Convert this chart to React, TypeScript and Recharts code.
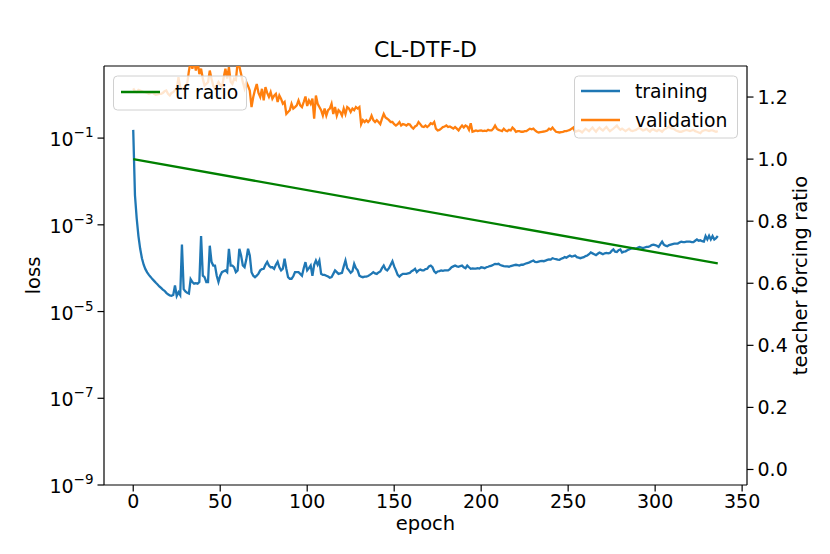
import { ComposedChart, Line, XAxis, YAxis, ReferenceLine } from "recharts"

// loss per epoch
const trainingLoss = [
  0.155, 4.8e-3, 1.4e-3, 5.5e-4, 2.8e-4, 1.7e-4, 1.2e-4, 9.5e-5, 8.0e-5, 7.0e-5,
  6.3e-5, 5.6e-5, 5.1e-5, 4.6e-5, 4.2e-5, 3.8e-5, 3.5e-5, 3.2e-5, 3.0e-5, 2.7e-5,
  2.5e-5, 2.35e-5, 2.3e-5, 2.4e-5, 4.0e-5, 2.3e-5, 2.8e-5, 2.4e-5, 3.5e-4, 3.3e-5,
  2.9e-5, 2.7e-5, 2.6e-5, 5.6e-5, 4.8e-5, 4.4e-5, 4.5e-5, 4.4e-5, 4.8e-5, 5.5e-4,
  6.7e-5, 6.2e-5, 4.8e-5, 4.8e-5, 3.3e-4, 1.4e-4, 1.15e-4, 1.15e-4, 6.7e-5, 4.8e-5,
  6.7e-5, 8.1e-5, 8.5e-5, 8.9e-5, 8.1e-5, 2.8e-4, 1.15e-4, 1.15e-4, 1.05e-4, 8.1e-5,
  8.9e-5, 2.8e-4, 1.96e-4, 1.15e-4, 1.05e-4, 1.6e-4, 2.8e-4, 1.96e-4, 8.1e-5, 6.7e-5,
  6.2e-5, 6.7e-5, 7.5e-5, 8.9e-5, 9.5e-5, 9.7e-5, 1.2e-4, 1.4e-4, 1.15e-4, 1.05e-4,
  1.05e-4, 9.7e-5, 1.2e-4, 1.4e-4, 1.05e-4, 8.9e-5, 9.7e-5, 1.65e-4, 9.7e-5, 6.2e-5,
  5.7e-5, 5.7e-5, 6.5e-5, 8.1e-5, 8.1e-5, 8.1e-5, 7.4e-5, 6.7e-5, 1.0e-4, 1.38e-4,
  8.9e-5, 1.0e-4, 1.15e-4, 6.7e-5, 1.2e-4, 1.5e-4, 1.2e-4, 1.5e-4, 7.4e-5, 7.0e-5,
  7.0e-5, 6.7e-5, 6.4e-5, 6.0e-5, 6.2e-5, 7.4e-5, 8.9e-5, 8.1e-5, 7.4e-5, 7.6e-5,
  7.8e-5, 1.1e-4, 1.5e-4, 1.0e-4, 8.9e-5, 7.8e-5, 8.5e-5, 1.26e-4, 1.0e-4, 8.9e-5,
  6.7e-5, 6.4e-5, 6.2e-5, 6.4e-5, 6.4e-5, 6.6e-5, 7.0e-5, 7.5e-5, 8.1e-5, 7.6e-5,
  7.4e-5, 8.0e-5, 8.4e-5, 1.0e-4, 1.15e-4, 9.5e-5, 8.9e-5, 1.0e-4, 1.2e-4, 1.45e-4,
  1.1e-4, 8.9e-5, 7.0e-5, 6.4e-5, 7.0e-5, 7.4e-5, 7.4e-5, 7.4e-5, 7.6e-5, 7.8e-5,
  8.5e-5, 8.9e-5, 9.7e-5, 8.1e-5, 8.9e-5, 9.3e-5, 8.9e-5, 8.9e-5, 9.5e-5, 9.7e-5,
  1.1e-4, 1.15e-4, 1.05e-4, 8.5e-5, 7.8e-5, 8.4e-5, 8.6e-5, 8.9e-5, 8.7e-5, 8.9e-5,
  8.9e-5, 8.9e-5, 9.5e-5, 1.05e-4, 1.1e-4, 1.15e-4, 1.1e-4, 1.08e-4, 1.12e-4, 1.15e-4,
  1.05e-4, 1.0e-4, 1.15e-4, 1.05e-4, 9.7e-5, 9.9e-5, 9.8e-5, 9.8e-5, 1.0e-4, 9.8e-5,
  1.05e-4, 1.03e-4, 1.0e-4, 1.05e-4, 1.08e-4, 1.12e-4, 1.15e-4, 1.2e-4, 1.26e-4, 1.24e-4,
  1.26e-4, 1.18e-4, 1.15e-4, 1.12e-4, 1.1e-4, 1.1e-4, 1.08e-4, 1.12e-4, 1.15e-4, 1.18e-4,
  1.2e-4, 1.18e-4, 1.15e-4, 1.2e-4, 1.2e-4, 1.25e-4, 1.3e-4, 1.32e-4, 1.38e-4, 1.45e-4,
  1.5e-4, 1.4e-4, 1.38e-4, 1.42e-4, 1.45e-4, 1.48e-4, 1.45e-4, 1.5e-4, 1.55e-4, 1.6e-4,
  1.58e-4, 1.7e-4, 1.65e-4, 1.62e-4, 1.58e-4, 1.56e-4, 1.65e-4, 1.7e-4, 1.8e-4, 1.75e-4,
  1.85e-4, 1.96e-4, 1.86e-4, 1.9e-4, 1.96e-4, 1.8e-4, 1.75e-4, 1.7e-4, 1.75e-4, 1.8e-4,
  1.9e-4, 1.96e-4, 2.1e-4, 2.3e-4, 2.2e-4, 2.1e-4, 2.0e-4, 2.15e-4, 2.3e-4, 2.2e-4,
  2.1e-4, 2.2e-4, 2.25e-4, 2.2e-4, 2.25e-4, 2.5e-4, 2.7e-4, 2.4e-4, 2.35e-4, 2.6e-4,
  2.7e-4, 2.3e-4, 2.4e-4, 2.45e-4, 2.6e-4, 2.7e-4, 2.8e-4, 2.9e-4, 2.85e-4, 2.8e-4,
  2.95e-4, 3.1e-4, 3.0e-4, 2.9e-4, 3.0e-4, 3.1e-4, 3.1e-4, 3.2e-4, 3.4e-4, 3.5e-4,
  3.4e-4, 3.3e-4, 3.1e-4, 3.6e-4, 4.1e-4, 3.5e-4, 3.3e-4, 3.2e-4, 3.4e-4, 3.5e-4,
  3.6e-4, 3.7e-4, 3.7e-4, 3.7e-4, 3.9e-4, 4.1e-4, 4.0e-4, 4.0e-4, 4.1e-4, 4.1e-4,
  4.1e-4, 4.0e-4, 4.0e-4, 4.3e-4, 4.6e-4, 4.3e-4, 4.4e-4, 4.2e-4, 4.1e-4, 5.5e-4,
  4.6e-4, 5.6e-4, 4.6e-4, 5.5e-4, 4.6e-4, 4.9e-4, 5.5e-4,
]

const validationLoss = [
  1.4, 1.2, 1.15, 1.3, 1.25, 1.2, 1.15, 1.15, 1.1, 1.05,
  1.1, 1.15, 1.05, 1.0, 1.02, 1.05, 1.05, 1.1, 1.2, 1.25,
  1.05, 0.96, 1.1, 1.15, 1.3, 1.37, 2.55, 1.5, 1.4, 1.37,
  1.6, 1.78, 3.5, 6.0, 4.0, 6.0, 3.6, 6.0, 3.0, 4.0,
  2.35, 1.63, 1.78, 1.95, 3.6, 2.35, 1.6, 1.37, 1.6, 1.95,
  1.7, 1.5, 2.5, 4.0, 2.35, 4.35, 2.0, 1.78, 2.35, 2.2,
  5.5, 4.5, 3.0, 1.95, 1.4, 1.95, 1.6, 1.25, 0.52, 0.89,
  1.3, 1.77, 1.1, 0.89, 1.37, 0.74, 1.5, 1.1, 0.89, 1.15,
  0.81, 0.95, 1.05, 0.68, 0.96, 0.8, 0.62, 0.68, 0.36, 0.4,
  0.44, 0.62, 0.48, 0.52, 0.57, 0.74, 0.57, 0.52, 0.68, 0.91,
  0.55, 0.74, 0.62, 0.81, 0.28, 0.96, 0.62, 0.52, 0.44, 0.33,
  0.48, 0.33, 0.44, 0.48, 0.62, 0.36, 0.52, 0.33, 0.44, 0.40,
  0.33, 0.48, 0.36, 0.52, 0.48, 0.40, 0.48, 0.44, 0.52, 0.48,
  0.52, 0.21, 0.26, 0.235, 0.26, 0.235, 0.26, 0.33, 0.26, 0.235,
  0.26, 0.235, 0.21, 0.28, 0.36, 0.30, 0.28, 0.26, 0.235, 0.235,
  0.21, 0.195, 0.21, 0.235, 0.195, 0.21, 0.205, 0.195, 0.21, 0.205,
  0.18, 0.165, 0.185, 0.195, 0.235, 0.21, 0.185, 0.18, 0.195, 0.18,
  0.195, 0.22, 0.21, 0.235, 0.165, 0.15, 0.155, 0.165, 0.18, 0.185,
  0.195, 0.18, 0.185, 0.175, 0.165, 0.18, 0.165, 0.15, 0.175, 0.195,
  0.175, 0.195, 0.185, 0.155, 0.22, 0.14, 0.145, 0.15, 0.145, 0.148,
  0.15, 0.145, 0.148, 0.145, 0.155, 0.15, 0.15, 0.165, 0.195, 0.165,
  0.155, 0.15, 0.145, 0.165, 0.15, 0.145, 0.155, 0.15, 0.175, 0.16,
  0.14, 0.145, 0.145, 0.14, 0.14, 0.145, 0.145, 0.155, 0.165, 0.16,
  0.165, 0.15, 0.14, 0.135, 0.138, 0.14, 0.142, 0.145, 0.15, 0.165,
  0.158, 0.175, 0.155, 0.14, 0.138, 0.135, 0.138, 0.14, 0.145, 0.145,
  0.15, 0.155, 0.165, 0.175, 0.14, 0.145, 0.15, 0.145, 0.135, 0.15,
  0.165, 0.155, 0.145, 0.16, 0.175, 0.155, 0.14, 0.16, 0.175, 0.16,
  0.15, 0.165, 0.18, 0.16, 0.145, 0.155, 0.165, 0.18, 0.195, 0.17,
  0.155, 0.165, 0.155, 0.145, 0.155, 0.165, 0.15, 0.145, 0.15, 0.155,
  0.165, 0.175, 0.16, 0.15, 0.155, 0.165, 0.15, 0.14, 0.155, 0.16,
  0.15, 0.145, 0.155, 0.15, 0.14, 0.155, 0.165, 0.175, 0.185, 0.17,
  0.165, 0.16, 0.15, 0.145, 0.14, 0.14, 0.145, 0.15, 0.155, 0.15,
  0.145, 0.15, 0.155, 0.145, 0.14, 0.135, 0.13, 0.145, 0.15, 0.155,
  0.15, 0.145, 0.15, 0.15, 0.145, 0.14, 0.145,
]

// teacher forcing ratio: straight line, first and last epoch
const tfRatioEnds = [1.0, 0.664]

const epochTicks = [0, 50, 100, 150, 200, 250, 300, 350]
const lossTicks = [1e-9, 1e-7, 1e-5, 1e-3, 1e-1]
const tfTicks = [0, 0.2, 0.4, 0.6, 0.8, 1.0, 1.2]

const FONT = "'DejaVu Sans', sans-serif"
const FS = 19
const LABEL_FS = 19.5

const last = trainingLoss.length - 1
const rows = trainingLoss.map((v, i) => ({
  epoch: i,
  training: v,
  validation: validationLoss[i],
  tf: i === 0 ? tfRatioEnds[0] : i === last ? tfRatioEnds[1] : null,
}))

function LossTick({ x, y, payload }: any) {
  const exp = Math.round(Math.log10(payload.value))
  return (
    <text x={x} y={y} textAnchor="end" fill="#000" fontFamily={FONT} fontSize={FS}>
      <tspan dy={8}>10</tspan>
      <tspan dy={-9} fontSize={13.5}>{"\u2212" + Math.abs(exp)}</tspan>
    </text>
  )
}

export default function App() {
  const axisStroke = { stroke: "#000", strokeWidth: 1.2 }
  return (
    <div style={{ position: "absolute", left: 0, top: 0, width: 830, height: 554, background: "#fff" }}>
      <ComposedChart width={830} height={554} data={rows} margin={{ top: 66, right: 0, bottom: 0, left: 0 }}>
        <XAxis dataKey="epoch" type="number" domain={[-16.8, 352.8]} ticks={epochTicks} allowDataOverflow
          height={69} tickSize={6.5} tickMargin={3} axisLine={axisStroke} tickLine={axisStroke}
          tick={{ fontSize: FS, fill: "#000", fontFamily: FONT }} />
        <YAxis yAxisId="loss" scale="log" domain={[1e-9, 4.6]} ticks={lossTicks} allowDataOverflow
          width={104} tickSize={6.5} tickMargin={4} axisLine={axisStroke} tickLine={axisStroke}
          tick={<LossTick />} />
        <YAxis yAxisId="tf" orientation="right" domain={[-0.05, 1.3]} ticks={tfTicks} allowDataOverflow
          width={83} tickSize={6.5} tickMargin={4} axisLine={axisStroke} tickLine={axisStroke}
          tickFormatter={(v) => Number(v).toFixed(1)}
          tick={{ fontSize: FS, fill: "#000", fontFamily: FONT }} />
        <ReferenceLine yAxisId="tf" y={1.3} stroke="#000" strokeWidth={1.2} />
        <Line yAxisId="loss" dataKey="training" stroke="#1f77b4" strokeWidth={2.3} dot={false}
          isAnimationActive={false} />
        <Line yAxisId="loss" dataKey="validation" stroke="#ff7f0e" strokeWidth={2.3} dot={false}
          isAnimationActive={false} />
        <Line yAxisId="tf" dataKey="tf" stroke="#008000" strokeWidth={2.3} dot={false} connectNulls
          isAnimationActive={false} />
      </ComposedChart>

      <svg width={830} height={554} style={{ position: "absolute", left: 0, top: 0, pointerEvents: "none" }}
        fontFamily={FONT} fill="#000">
        <text x={425.5} y={57} textAnchor="middle" fontSize={22}>CL-DTF-D</text>
        <text x={425.5} y={530} textAnchor="middle" fontSize={LABEL_FS}>epoch</text>
        <text transform="translate(40,275.5) rotate(-90)" textAnchor="middle" fontSize={LABEL_FS}>loss</text>
        <text transform="translate(807,275.5) rotate(-90)" textAnchor="middle" fontSize={LABEL_FS}>teacher forcing ratio</text>

        <rect x={113.5} y={76} width={133} height={34} rx={4} fill="#fff" fillOpacity={0.8} stroke="#d0d0d0" />
        <line x1={121} y1={92} x2={160} y2={92} stroke="#008000" strokeWidth={2.3} />
        <text x={175} y={99} fontSize={18.8}>tf ratio</text>

        <rect x={574.5} y={76} width={163} height={62} rx={4} fill="#fff" fillOpacity={0.8} stroke="#d0d0d0" />
        <line x1={581} y1={91} x2={620} y2={91} stroke="#1f77b4" strokeWidth={2.3} />
        <text x={635} y={98} fontSize={18.8}>training</text>
        <line x1={581} y1={120} x2={620} y2={120} stroke="#ff7f0e" strokeWidth={2.3} />
        <text x={635} y={127} fontSize={18.8}>validation</text>
      </svg>
    </div>
  )
}
